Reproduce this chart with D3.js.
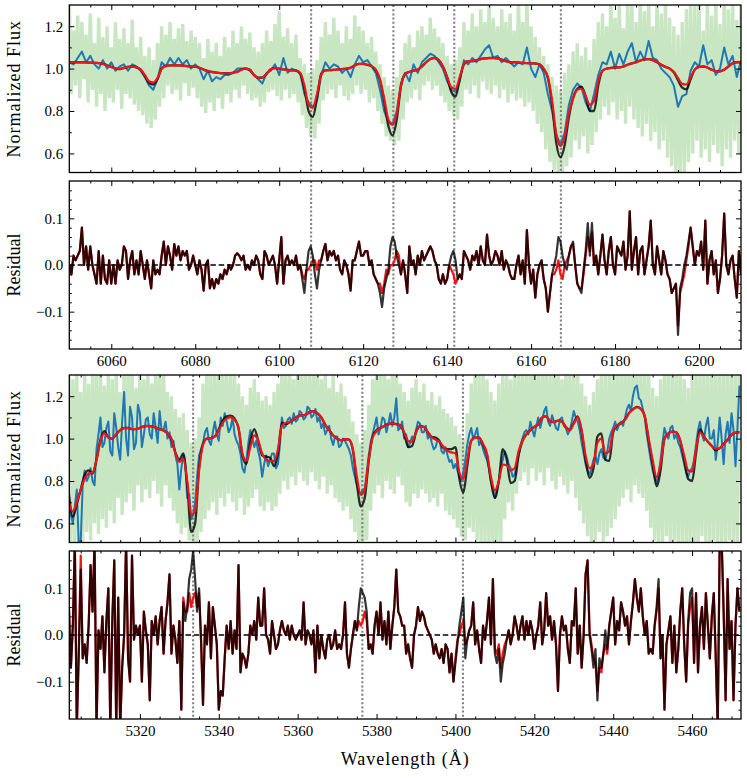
<!DOCTYPE html>
<html>
<head>
<meta charset="utf-8">
<script src="https://cdn.jsdelivr.net/npm/d3@7"></script>
<style>
  body { margin: 0; background: #fff; }
  svg { display: block; }
  svg text { font-family: "Liberation Serif", "DejaVu Serif", serif; }
</style>
</head>
<body>
<svg id="chart" width="747" height="778"></svg>
<script>
// ============================= Window 1: 6050 - 6210 A =========================//
var top_start = 6050;
var top_step = 1;          // models and smoothed observation
var top_fine_step = 0.5;   // raw spectrum and residuals

var top_raw = [
  1.30,0.88, 1.18,0.92, 1.25,0.86, 1.22,0.95, 1.16,0.84, 1.26,0.90, 1.12,0.82, 1.24,0.88, 1.15,0.80, 1.20,0.86,
  1.10,0.84, 1.22,0.90, 1.14,0.81, 1.19,0.88, 1.12,0.86, 1.23,0.83, 1.10,0.80, 1.15,0.78, 1.06,0.74, 1.10,0.72,
  1.04,0.76, 1.12,0.82, 1.20,0.86, 1.16,0.92, 1.22,0.88, 1.14,0.90, 1.19,0.85, 1.21,0.93, 1.13,0.87, 1.18,0.91,
  1.15,0.86, 1.12,0.82, 1.05,0.79, 1.14,0.84, 1.08,0.80, 1.12,0.86, 1.06,0.81, 1.15,0.88, 1.10,0.84, 1.18,0.90,
  1.12,0.86, 1.20,0.92, 1.14,0.88, 1.17,0.85, 1.10,0.86, 1.08,0.82, 1.12,0.84, 1.18,0.89, 1.13,0.90, 1.21,0.87,
  1.27,0.85, 1.15,0.90, 1.19,0.86, 1.12,0.88, 1.16,0.84, 1.05,0.78, 1.02,0.72, 0.98,0.68, 1.00,0.67, 1.04,0.74,
  1.15,0.85, 1.22,0.88, 1.16,0.90, 1.24,0.86, 1.18,0.92, 1.12,0.87, 1.20,0.85, 1.14,0.88, 1.25,0.92, 1.20,0.88,
  1.18,0.90, 1.12,0.84, 1.15,0.86, 1.08,0.80, 1.02,0.74, 0.96,0.68, 0.92,0.66, 0.90,0.64, 0.96,0.66, 1.04,0.76,
  1.12,0.84, 1.16,0.86, 1.10,0.90, 1.18,0.85, 1.20,0.92, 1.16,0.94, 1.24,0.90, 1.19,0.92, 1.15,0.87, 1.12,0.84,
  1.06,0.80, 1.02,0.78, 1.04,0.76, 1.10,0.82, 1.22,0.90, 1.18,0.88, 1.26,0.92, 1.20,0.86, 1.28,0.94, 1.22,0.90,
  1.30,0.88, 1.24,0.92, 1.20,0.86, 1.28,0.90, 1.22,0.84, 1.26,0.88, 1.18,0.85, 1.34,0.86, 1.22,0.82, 1.34,0.84,
  1.20,0.80, 1.15,0.74, 1.10,0.70, 1.06,0.62, 1.02,0.56, 0.96,0.52, 0.92,0.48, 0.90,0.48, 0.98,0.54, 1.02,0.58,
  1.08,0.66, 1.12,0.62, 1.06,0.68, 1.10,0.60, 1.04,0.64, 1.14,0.70, 1.22,0.76, 1.26,0.82, 1.20,0.78, 1.34,0.84,
  1.24,0.76, 1.34,0.80, 1.19,0.74, 1.34,0.82, 1.30,0.76, 1.22,0.72, 1.34,0.68, 1.27,0.74, 1.34,0.66, 1.20,0.70,
  1.34,0.62, 1.26,0.66, 1.34,0.58, 1.24,0.54, 1.20,0.48, 1.16,0.48, 1.22,0.48, 1.28,0.56, 1.34,0.60, 1.30,0.66,
  1.34,0.58, 1.18,0.62, 1.34,0.56, 1.25,0.64, 1.34,0.60, 1.21,0.54, 1.34,0.62, 1.28,0.58, 1.34,0.66, 1.23,0.60,
  1.34
];

var top_observed = [
  1.03,1.02,1.05,1.08,1.03,1.06,1.02,1.00,1.04,1.00,
  1.03,0.99,1.01,1.02,0.99,1.02,1.01,0.99,0.96,0.92,
  0.90,0.95,1.03,1.01,1.05,1.02,1.05,1.02,1.04,1.00,
  1.02,1.00,0.95,0.99,0.94,0.96,0.95,0.97,0.97,0.98,
  1.00,1.00,1.00,0.99,0.97,0.95,0.93,0.98,0.99,1.02,
  0.97,1.05,0.98,1.00,0.99,0.98,0.88,0.84,0.82,0.85,
  0.97,1.03,1.00,1.02,1.01,0.98,1.00,0.96,1.02,1.06,
  1.03,1.04,1.01,0.98,0.90,0.80,0.75,0.74,0.80,0.93,
  0.98,0.94,1.02,0.98,1.03,1.05,1.07,1.06,1.03,1.00,
  0.94,0.90,0.89,0.94,1.04,1.02,1.05,1.03,1.06,1.09,
  1.11,1.05,1.06,1.03,1.05,1.03,1.01,1.03,1.02,1.10,
  1.00,0.96,1.02,0.98,0.88,0.80,0.69,0.64,0.70,0.83,
  0.90,0.93,0.91,0.84,0.80,0.88,0.97,1.03,1.02,1.08,
  1.00,1.07,1.02,1.08,1.12,1.03,1.08,1.04,1.13,1.05,
  1.04,1.00,0.98,0.96,0.92,0.82,0.87,0.88,0.99,1.03,
  1.01,1.11,1.02,1.04,0.97,1.00,1.10,1.02,1.06,0.96,
  1.04
];

var top_model_black = [
  1.030,1.030,1.030,1.029,1.029,1.028,1.027,1.026,1.022,1.016,
  1.008,1.001,0.998,1.003,1.008,1.010,1.006,0.995,0.965,0.932,
  0.925,0.950,1.000,1.013,1.015,1.015,1.015,1.014,1.012,1.010,
  1.008,1.004,0.995,0.988,0.984,0.981,0.979,0.978,0.978,0.980,
  0.985,0.995,1.000,0.995,0.970,0.957,0.958,0.975,0.997,1.002,
  1.000,0.996,0.994,0.992,0.991,0.975,0.905,0.800,0.772,0.860,
  0.975,0.992,0.993,0.994,0.996,0.998,1.000,1.004,1.015,1.022,
  1.022,1.018,1.012,0.993,0.945,0.845,0.730,0.685,0.760,0.915,
  0.975,0.985,0.990,0.995,1.010,1.030,1.045,1.050,1.040,1.010,
  0.960,0.890,0.868,0.950,1.020,1.035,1.035,1.040,1.045,1.048,
  1.050,1.050,1.048,1.042,1.035,1.030,1.030,1.028,1.027,1.026,
  1.025,1.024,1.020,0.998,0.955,0.830,0.650,0.582,0.640,0.770,
  0.860,0.905,0.915,0.870,0.800,0.800,0.920,0.990,1.000,1.003,
  1.006,1.006,1.010,1.018,1.025,1.030,1.038,1.044,1.045,1.040,
  1.030,1.018,1.008,1.000,0.982,0.945,0.910,0.902,0.950,0.995,
  1.008,1.010,1.005,0.995,0.988,0.987,0.995,1.010,1.025,1.030,
  1.030
];

var top_model_red = [
  1.030,1.030,1.030,1.029,1.029,1.028,1.027,1.026,1.022,1.016,
  1.008,1.001,0.998,1.003,1.008,1.010,1.006,0.995,0.970,0.940,
  0.935,0.955,1.000,1.013,1.015,1.015,1.015,1.014,1.012,1.010,
  1.008,1.004,0.995,0.988,0.984,0.981,0.979,0.978,0.978,0.980,
  0.985,0.995,1.000,0.995,0.970,0.957,0.958,0.975,0.997,1.002,
  1.000,0.996,0.994,0.992,0.991,0.980,0.920,0.830,0.815,0.880,
  0.970,0.992,0.993,0.994,0.996,0.998,1.000,1.004,1.015,1.022,
  1.022,1.018,1.012,0.995,0.950,0.860,0.760,0.735,0.790,0.920,
  0.975,0.985,0.990,0.995,1.010,1.030,1.045,1.050,1.040,1.010,
  0.960,0.912,0.905,0.960,1.020,1.035,1.035,1.040,1.045,1.048,
  1.050,1.050,1.048,1.042,1.035,1.030,1.030,1.028,1.027,1.026,
  1.025,1.024,1.020,1.000,0.960,0.850,0.690,0.635,0.680,0.790,
  0.860,0.900,0.905,0.870,0.830,0.850,0.940,0.990,1.000,1.003,
  1.006,1.006,1.010,1.018,1.025,1.030,1.038,1.044,1.045,1.040,
  1.030,1.018,1.008,1.000,0.985,0.955,0.928,0.925,0.960,0.995,
  1.008,1.010,1.005,0.995,0.988,0.987,0.995,1.010,1.025,1.030,
  1.030
];

var top_resid_black = [
  0.00,-0.02, 0.02,0.01, 0.02,0.03, 0.08,0.00, 0.04,-0.01, 0.04,0.00, -0.02,-0.04, 0.03,-0.04, 0.02,-0.03, -0.04,0.01,
  -0.04,0.00, -0.04,0.01, -0.01,0.00, 0.04,0.03, -0.03,0.01, 0.03,-0.02, 0.01,-0.02, 0.03,0.00, -0.03,0.01, -0.02,-0.05,
  0.01,-0.02, -0.01,-0.02, 0.02,0.05, 0.00,0.04, 0.02,-0.01, 0.045,0.02, 0.04,0.01, 0.03,0.02, 0.03,-0.01, 0.00,0.02,
  0.00,-0.02, 0.01,-0.01, -0.055,0.00, 0.01,-0.05, -0.03,-0.05, -0.03,-0.04, -0.02,-0.03, -0.01,-0.02, 0.00,-0.01, 0.00,0.02,
  0.025,0.02, 0.01,0.02, -0.01,0.00, -0.01,0.01, 0.00,0.02, 0.01,-0.02, -0.03,0.03, 0.02,0.00, 0.01,0.02, 0.00,-0.04,
  0.01,0.06, -0.04,0.01, 0.02,0.00, 0.01,0.00, 0.02,-0.01, 0.00,-0.03, -0.06,-0.01, 0.03,0.04, 0.02,-0.02, -0.05,-0.01,
  0.01,0.03, 0.045,0.01, 0.03,0.02, 0.03,0.01, 0.02,-0.01, -0.02,0.01, 0.00,-0.02, -0.055,0.01, 0.01,0.03, 0.05,0.02,
  0.02,0.03, 0.03,0.00, 0.01,-0.02, -0.03,-0.04, -0.06,-0.09, -0.05,-0.03, -0.01,0.04, 0.06,0.05, 0.02,0.00, -0.02,0.01,
  -0.02,-0.06, 0.04,0.00, 0.01,-0.02, 0.02,0.00, 0.03,0.01, 0.02,0.03, 0.04,0.03, 0.01,0.00, -0.03,-0.04, -0.02,-0.04,
  -0.03,0.00, 0.02,0.03, 0.01,-0.03, -0.02,-0.03, 0.03,0.02, 0.01,-0.01, 0.02,0.01, 0.03,0.00, 0.04,0.01, 0.00,0.065,
  0.02,0.00, 0.01,0.03, 0.02,0.00, 0.03,-0.01, 0.01,0.00, -0.02,-0.03, -0.03,0.00, 0.02,-0.02, 0.01,-0.04, 0.075,0.00,
  -0.04,-0.01, -0.07,-0.02, 0.00,0.01, -0.03,-0.05, -0.10,-0.06, -0.02,0.00, 0.02,0.06, 0.05,0.02, 0.00,-0.01, 0.02,0.04,
  0.05,0.00, -0.04,-0.05, -0.06,-0.01, 0.03,0.09, 0.02,0.09, 0.00,0.02, -0.02,0.02, 0.065,0.01, -0.02,0.03, 0.06,0.00,
  -0.02,0.04, 0.03,0.02, 0.05,-0.01, 0.02,0.115, -0.01,0.03, 0.06,-0.02, 0.03,0.04, -0.02,0.01, 0.04,0.095, 0.00,-0.02,
  0.04,0.01, -0.02,0.03, 0.01,-0.02, -0.03,-0.06, -0.05,-0.04, -0.15,-0.05, -0.03,0.00, 0.02,0.05, 0.08,0.04, 0.00,0.03,
  0.02,0.05, -0.01,0.095, -0.04,0.01, 0.03,-0.02, 0.01,-0.06, -0.03,0.02, 0.11,0.00, -0.02,0.01, 0.02,-0.03, -0.07,0.03,
  -0.02
];

var top_resid_red = [
  0.00,-0.02, 0.02,0.01, 0.02,0.03, 0.08,0.00, 0.04,-0.01, 0.04,0.00, -0.02,-0.04, 0.03,-0.04, 0.02,-0.03, -0.04,0.01,
  -0.04,0.00, -0.04,0.01, -0.01,0.00, 0.04,0.03, -0.03,0.01, 0.03,-0.02, 0.01,-0.02, 0.03,0.00, -0.03,0.01, -0.02,-0.05,
  0.01,-0.02, -0.01,-0.02, 0.02,0.05, 0.00,0.04, 0.02,-0.01, 0.045,0.02, 0.04,0.01, 0.03,0.02, 0.03,-0.01, 0.00,0.02,
  0.00,-0.02, 0.01,-0.01, -0.055,0.00, 0.01,-0.05, -0.03,-0.05, -0.03,-0.04, -0.02,-0.03, -0.01,-0.02, 0.00,-0.01, 0.00,0.02,
  0.025,0.02, 0.01,0.02, -0.01,0.00, -0.01,0.01, 0.00,0.02, 0.01,-0.02, -0.03,0.03, 0.02,0.00, 0.01,0.02, 0.00,-0.04,
  0.01,0.06, -0.04,0.01, 0.02,0.00, 0.01,0.00, 0.02,-0.01, 0.00,-0.02, -0.03,-0.01, -0.01,0.00, 0.01,0.01, -0.01,0.01,
  0.01,0.03, 0.045,0.01, 0.03,0.02, 0.03,0.01, 0.02,-0.01, -0.02,0.01, 0.00,-0.02, -0.055,0.01, 0.01,0.03, 0.05,0.02,
  0.02,0.03, 0.03,0.00, 0.01,-0.02, -0.03,-0.04, -0.04,-0.06, -0.04,-0.01, -0.02,0.00, 0.00,0.01, 0.03,0.02, -0.02,0.01,
  -0.02,-0.06, 0.04,0.00, 0.01,-0.02, 0.02,0.00, 0.03,0.01, 0.02,0.03, 0.04,0.03, 0.01,0.00, -0.03,-0.04, -0.02,-0.04,
  -0.03,0.00, -0.01,-0.02, -0.04,-0.03, -0.02,-0.03, 0.03,0.02, 0.01,-0.01, 0.02,0.01, 0.03,0.00, 0.04,0.01, 0.00,0.065,
  0.02,0.00, 0.01,0.03, 0.02,0.00, 0.03,-0.01, 0.01,0.00, -0.02,-0.03, -0.03,0.00, 0.02,-0.02, 0.01,-0.04, 0.075,0.00,
  -0.04,-0.01, -0.07,-0.02, 0.00,0.01, -0.03,-0.05, -0.10,-0.06, -0.02,-0.02, -0.01,0.01, -0.02,-0.03, 0.00,0.01, 0.02,0.04,
  0.045,0.00, -0.04,-0.05, -0.05,-0.02, 0.02,0.06, 0.03,0.07, 0.00,0.02, -0.02,0.02, 0.065,0.01, -0.02,0.03, 0.06,0.00,
  -0.02,0.04, 0.03,0.02, 0.05,-0.01, 0.02,0.115, -0.01,0.03, 0.06,-0.02, 0.03,0.04, -0.02,0.01, 0.04,0.095, 0.00,-0.02,
  0.04,0.01, -0.02,0.03, 0.01,-0.02, -0.03,-0.06, -0.05,-0.04, -0.13,-0.06, -0.04,-0.02, 0.01,0.04, 0.08,0.04, 0.00,0.03,
  0.02,0.05, -0.01,0.095, -0.04,0.01, 0.03,-0.02, 0.01,-0.06, -0.03,0.02, 0.11,0.00, -0.02,0.01, 0.02,-0.03, -0.07,0.03,
  -0.02
];

var top_lines = [6107.6, 6127.2, 6141.7, 6167.1];
var top_xdomain = [6050, 6210];
var top_xticks = [6060, 6080, 6100, 6120, 6140, 6160, 6180, 6200];
var top_xminor = [6055, 6065, 6070, 6075, 6085, 6090, 6095, 6105, 6110, 6115, 6125, 6130, 6135,
                  6145, 6150, 6155, 6165, 6170, 6175, 6185, 6190, 6195, 6205];

// ============================= Window 2: 5302 - 5472 A =========================//
var bot_start = 5302;
var bot_step = 1;
var bot_fine_step = 0.5;

var bot_raw = [
  1.34,0.50, 1.28,0.48, 1.34,0.48, 1.22,0.50, 1.34,0.56, 1.26,0.52, 1.34,0.60, 1.30,0.55, 1.34,0.62, 1.25,0.58,
  1.34,0.66, 1.28,0.60, 1.34,0.72, 1.22,0.64, 1.34,0.70, 1.30,0.74, 1.34,0.66, 1.24,0.78, 1.34,0.70, 1.28,0.76,
  1.34,0.72, 1.26,0.80, 1.34,0.74, 1.30,0.68, 1.34,0.78, 1.22,0.72, 1.20,0.66, 1.14,0.60, 1.10,0.55, 1.12,0.58,
  1.04,0.52, 0.98,0.48, 1.00,0.50, 1.10,0.56, 1.26,0.62, 1.34,0.66, 1.30,0.70, 1.34,0.64, 1.34,0.72, 1.34,0.68,
  1.34,0.74, 1.30,0.70, 1.34,0.66, 1.26,0.72, 1.20,0.64, 1.16,0.68, 1.24,0.72, 1.28,0.76, 1.22,0.68, 1.18,0.66,
  1.20,0.70, 1.16,0.66, 1.22,0.68, 1.26,0.74, 1.34,0.80, 1.30,0.76, 1.34,0.82, 1.28,0.78, 1.34,0.84, 1.32,0.80,
  1.34,0.78, 1.30,0.84, 1.34,0.80, 1.34,0.76, 1.28,0.82, 1.34,0.74, 1.24,0.78, 1.30,0.72, 1.22,0.70, 1.26,0.66,
  1.20,0.68, 1.14,0.62, 1.08,0.56, 1.02,0.50, 0.98,0.48, 1.04,0.52, 1.16,0.66, 1.28,0.74, 1.34,0.78, 1.30,0.72,
  1.34,0.80, 1.28,0.76, 1.34,0.74, 1.34,0.82, 1.26,0.78, 1.22,0.70, 1.18,0.68, 1.24,0.74, 1.28,0.72, 1.22,0.76,
  1.26,0.74, 1.18,0.70, 1.22,0.72, 1.16,0.68, 1.20,0.74, 1.14,0.66, 1.12,0.64, 1.10,0.62, 1.06,0.58, 1.02,0.54,
  1.00,0.52, 1.12,0.58, 1.26,0.56, 1.34,0.52, 1.30,0.48, 1.34,0.50, 1.28,0.48, 1.22,0.48, 1.18,0.48, 1.26,0.50,
  1.30,0.62, 1.34,0.70, 1.28,0.66, 1.34,0.74, 1.30,0.80, 1.34,0.84, 1.30,0.78, 1.34,0.86, 1.34,0.80, 1.30,0.84,
  1.34,0.78, 1.34,0.86, 1.30,0.80, 1.34,0.76, 1.34,0.82, 1.28,0.78, 1.34,0.74, 1.34,0.80, 1.30,0.72, 1.34,0.66,
  1.26,0.60, 1.20,0.54, 1.16,0.50, 1.22,0.52, 1.28,0.56, 1.34,0.50, 1.30,0.54, 1.34,0.58, 1.34,0.62, 1.34,0.68,
  1.34,0.72, 1.34,0.76, 1.34,0.70, 1.34,0.78, 1.34,0.74, 1.34,0.72, 1.34,0.66, 1.30,0.58, 1.24,0.52, 1.20,0.48,
  1.28,0.50, 1.34,0.54, 1.34,0.48, 1.30,0.52, 1.34,0.48, 1.34,0.50, 1.28,0.48, 1.24,0.48, 1.30,0.50, 1.34,0.48,
  1.34,0.54, 1.34,0.50, 1.34,0.48, 1.34,0.52, 1.34,0.48, 1.34,0.50, 1.34,0.48, 1.34,0.52, 1.34,0.48, 1.34,0.50,
  1.34
];

// smoothed observation, 0.5 A steps in this window
var bot_observed = [
  0.70,0.64, 0.60,0.68, 0.76,0.50, 0.52,0.78, 0.85,0.80, 0.82,0.86, 0.80,0.78, 0.95,1.02, 1.10,0.96, 0.98,1.05,
  1.08,0.94, 0.92,1.12, 1.05,0.96, 0.90,1.08, 1.22,1.00, 0.92,1.15, 1.10,0.95, 0.98,1.16, 1.12,0.96, 1.02,1.09,
  1.10,1.02, 1.00,1.12, 1.05,0.98, 1.13,1.04, 1.04,1.08, 1.00,1.03, 0.96,0.99, 0.92,0.88, 0.76,0.86, 0.92,0.88,
  0.72,0.74, 0.62,0.64, 0.70,0.82, 0.92,0.95, 0.98,1.03, 1.05,0.99, 0.97,1.03, 1.08,1.02, 0.99,1.10, 1.06,1.12,
  1.08,1.03, 1.05,1.10, 1.02,0.99, 0.97,0.93, 0.86,0.84, 0.90,0.98, 1.04,1.00, 0.96,0.99, 0.94,0.90, 0.82,0.88,
  0.92,0.87, 0.90,0.93, 0.93,0.86, 0.88,0.97, 1.10,1.05, 1.06,1.09, 1.10,1.07, 1.12,1.08, 1.09,1.13, 1.12,1.09,
  1.10,1.15, 1.14,1.10, 1.11,1.14, 1.08,1.10, 1.05,1.07, 1.02,1.04, 1.06,1.00, 0.97,1.01, 1.01,0.96, 0.97,1.00,
  0.99,0.97, 0.95,0.92, 0.86,0.82, 0.78,0.75, 0.74,0.76, 0.76,0.84, 0.92,0.98, 1.02,1.06, 1.10,1.02, 1.05,1.10,
  1.09,1.03, 1.07,1.12, 1.06,1.10, 1.19,1.04, 1.05,1.08, 1.00,1.02, 0.96,0.98, 1.01,0.99, 1.04,1.08, 1.07,1.03,
  1.03,1.06, 1.00,1.02, 0.98,0.95, 0.96,1.00, 0.99,0.94, 0.93,0.96, 0.92,0.89, 0.90,0.86, 0.88,0.85, 0.82,0.80,
  0.84,0.90, 0.97,1.02, 1.05,1.00, 1.02,1.05, 0.97,0.99, 0.95,0.92, 0.90,0.86, 0.80,0.76, 0.72,0.76, 0.80,0.86,
  0.90,0.94, 0.92,0.88, 0.86,0.82, 0.83,0.87, 0.92,0.97, 1.00,1.03, 1.04,1.02, 1.08,1.04, 1.01,1.06, 1.10,1.05,
  1.09,1.13, 1.15,1.08, 1.06,1.11, 1.08,1.05, 1.04,1.09, 1.10,1.06, 1.05,1.02, 1.04,1.08, 1.13,1.10, 1.08,1.04,
  0.98,0.93, 0.88,0.85, 0.83,0.86, 0.90,0.92, 0.88,0.93, 0.95,0.91, 0.90,0.94, 1.00,1.03, 1.05,1.08, 1.04,1.07,
  1.08,1.06, 1.10,1.14, 1.16,1.13, 1.20,1.24, 1.25,1.19, 1.18,1.14, 1.10,1.02, 0.96,0.90, 0.85,0.82, 0.79,0.83,
  0.90,0.98, 1.05,1.02, 1.00,1.05, 1.06,1.00, 1.02,0.98, 0.96,0.92, 0.88,0.84, 0.82,0.85, 0.86,0.90, 0.97,1.04,
  1.08,1.02, 0.99,1.06, 1.10,1.00, 1.00,1.04, 0.90,0.98, 1.10,1.00, 0.88,1.02, 1.08,0.98, 1.12,1.04, 0.87,1.05,
  1.25
];

var bot_model_black = [
  0.740,0.632,0.690,0.760,0.830,0.850,0.835,0.900,0.995,1.035,
  1.005,1.000,1.020,1.040,1.050,1.050,1.045,1.045,1.050,1.058,
  1.060,1.058,1.052,1.045,1.038,1.025,0.995,0.935,0.900,0.930,
  0.780,0.560,0.600,0.860,0.975,1.000,1.002,1.010,1.045,1.085,
  1.105,1.108,1.095,1.050,0.920,0.880,0.990,1.045,0.990,0.920,
  0.915,0.910,0.870,0.930,1.075,1.068,1.078,1.090,1.105,1.110,
  1.112,1.125,1.130,1.120,1.100,1.065,1.040,1.015,1.000,0.992,
  0.998,0.995,0.945,0.790,0.680,0.720,0.890,1.010,1.040,1.050,
  1.060,1.070,1.072,1.068,1.062,1.025,0.960,0.965,1.030,1.060,
  1.055,1.030,1.008,1.005,0.985,0.955,0.950,0.950,0.960,0.810,
  0.745,0.870,0.990,1.005,1.005,0.970,0.920,0.800,0.720,0.800,
  0.950,0.900,0.790,0.800,0.920,0.990,1.020,1.040,1.055,1.068,
  1.100,1.105,1.082,1.078,1.085,1.080,1.055,1.040,1.075,1.105,
  1.035,0.900,0.815,0.860,1.010,1.025,0.900,0.895,1.030,1.062,
  1.072,1.090,1.120,1.138,1.150,1.140,1.105,0.990,0.880,0.775,
  0.850,1.000,1.025,1.033,1.030,0.990,0.900,0.810,0.800,0.930,
  1.045,1.010,0.985,0.965,0.945,0.955,0.975,0.995,1.018,1.028,
  1.030
];

var bot_model_red = [
  0.700,0.656,0.700,0.760,0.810,0.835,0.840,0.900,0.990,1.025,
  1.005,1.000,1.020,1.040,1.050,1.050,1.045,1.045,1.050,1.058,
  1.060,1.058,1.052,1.045,1.038,1.025,1.000,0.930,0.890,0.905,
  0.800,0.640,0.660,0.850,0.970,1.000,1.002,1.010,1.040,1.075,
  1.095,1.100,1.090,1.050,0.930,0.895,0.960,1.015,0.990,0.930,
  0.900,0.895,0.895,0.950,1.060,1.075,1.078,1.090,1.105,1.110,
  1.112,1.125,1.130,1.120,1.100,1.065,1.040,1.015,1.000,0.992,
  0.998,0.995,0.950,0.820,0.735,0.760,0.900,1.005,1.035,1.050,
  1.060,1.070,1.072,1.068,1.062,1.030,0.990,0.985,1.030,1.058,
  1.055,1.030,1.005,0.995,0.985,0.960,0.942,0.935,0.930,0.840,
  0.810,0.900,0.990,1.005,1.005,0.975,0.930,0.820,0.755,0.800,
  0.878,0.875,0.850,0.860,0.940,0.990,1.020,1.040,1.055,1.068,
  1.100,1.105,1.082,1.078,1.085,1.080,1.055,1.040,1.070,1.100,
  1.040,0.920,0.860,0.880,0.980,1.000,0.930,0.940,1.040,1.062,
  1.072,1.090,1.120,1.138,1.148,1.140,1.105,1.000,0.900,0.818,
  0.880,1.000,1.025,1.033,1.030,0.990,0.920,0.850,0.845,0.950,
  1.028,1.010,0.985,0.965,0.952,0.955,0.975,0.995,1.018,1.028,
  1.030
];

var bot_resid_black = [
  0.06,-0.07, 0.02,0.20, -0.20,-0.04, 0.14,-0.05, -0.02,-0.06, 0.02,0.15, 0.05,0.20, -0.20,0.01, -0.03,0.04, -0.08,0.03,
  0.10,-0.20, 0.03,0.16, -0.20,0.08, -0.20,-0.07, 0.00,0.20, -0.05,-0.10, 0.17,-0.01, 0.02,0.00, 0.02,-0.10, 0.05,0.01,
  -0.02,-0.14, 0.03,0.00, 0.04,-0.02, 0.03,0.06, -0.04,0.03, 0.07,0.13, -0.04,0.02, -0.01,-0.06, 0.03,-0.16, 0.07,0.03,
  0.06,0.12, 0.14,0.18, 0.12,0.05, 0.10,-0.01, -0.15,0.02, -0.02,0.07, -0.05,0.06, 0.02,-0.02, -0.16,-0.12, -0.13,-0.05,
  0.02,-0.03, 0.03,-0.04, 0.01,-0.03, 0.15,-0.08, -0.04,-0.05, -0.07,-0.04, 0.02,0.00, 0.03,-0.01, 0.08,0.02, 0.02,0.10,
  0.00,-0.01, -0.04,0.03, 0.00,-0.03, -0.02,0.01, 0.03,0.01, 0.00,0.02, -0.01,0.02, 0.00,-0.01, 0.00,0.01, -0.01,0.07,
  -0.02,0.01, 0.00,-0.02, 0.01,-0.08, 0.02,-0.05, 0.00,-0.03, -0.05,-0.01, 0.00,-0.03, -0.02,0.01, -0.03,-0.02, -0.03,0.00,
  0.07,-0.04, -0.07,-0.03, 0.00,0.03, 0.01,0.06, 0.10,0.09, 0.08,0.05, -0.03,-0.02, -0.04,0.02, 0.05,0.00, 0.07,-0.01,
  0.03,-0.02, 0.05,-0.03, 0.02,0.06, 0.14,0.05, 0.04,0.02, 0.02,-0.04, -0.02,-0.05, -0.07,0.00, 0.02,0.06, 0.03,0.05,
  0.04,0.02, 0.01,0.00, -0.01,-0.04, -0.02,-0.04, -0.05,-0.03, -0.06,-0.02, -0.03,-0.08, -0.04,-0.10, -0.06,-0.02, 0.02,0.05,
  0.08,-0.05, -0.01,0.01, 0.02,0.07, -0.02,0.01, -0.03,-0.06, 0.02,-0.01, 0.03,0.08, -0.02,0.12, -0.04,-0.06, -0.03,-0.10,
  -0.06,-0.04, -0.01,0.01, -0.02,0.00, 0.04,0.02, -0.01,0.02, 0.04,-0.01, 0.03,0.00, 0.03,0.01, -0.03,0.00, 0.02,0.07,
  -0.02,0.01, 0.09,0.02, 0.04,-0.01, 0.03,-0.02, -0.12,0.00, 0.04,0.01, 0.02,-0.03, -0.06,0.03, 0.02,0.10, -0.04,0.02,
  -0.07,0.00, 0.13,0.16, 0.00,-0.03, -0.07,-0.03, -0.14,-0.05, -0.07,-0.04, 0.01,-0.03, 0.02,0.05, 0.08,-0.02, 0.03,0.01,
  0.07,0.05, 0.02,0.04, -0.02,0.03, 0.07,0.12, 0.08,0.05, 0.10,0.04, 0.00,0.03, -0.04,-0.03, -0.04,0.02, 0.06,0.12,
  -0.05,0.00, -0.16,-0.02, 0.01,0.04, -0.06,0.02, -0.08,-0.03, 0.05,0.10, -0.02,-0.10, 0.03,0.09, 0.10,-0.06, 0.09,-0.08,
  0.02,0.06, -0.03,0.09, 0.02,-0.05, 0.04,0.09, -0.05,-0.20, 0.20,0.20, 0.05,-0.14, 0.12,-0.03, 0.03,-0.14, 0.02,0.10,
  0.05
];

var bot_resid_red = [
  0.06,-0.07, 0.02,0.20, -0.20,-0.04, 0.17,-0.05, -0.02,-0.06, 0.02,0.15, 0.05,0.20, -0.20,0.01, -0.03,0.04, -0.08,0.03,
  0.10,-0.20, 0.03,0.16, -0.20,0.08, -0.20,-0.07, 0.00,0.20, -0.05,-0.10, 0.17,-0.01, 0.02,0.00, 0.02,-0.10, 0.05,0.01,
  -0.02,-0.14, 0.03,0.00, 0.04,-0.02, 0.03,0.06, -0.04,0.03, 0.07,0.13, -0.04,0.02, -0.01,-0.06, 0.03,-0.16, 0.08,0.05,
  0.05,0.09, 0.06,0.08, 0.09,0.06, 0.09,-0.01, -0.15,0.02, -0.02,0.07, -0.05,0.06, 0.02,-0.02, -0.16,-0.12, -0.13,-0.05,
  0.02,-0.03, 0.03,-0.04, 0.01,-0.03, 0.15,-0.08, -0.04,-0.05, -0.07,-0.04, 0.02,0.00, 0.03,-0.01, 0.08,0.02, 0.02,0.10,
  0.00,-0.01, -0.04,0.03, 0.00,-0.03, -0.02,0.01, 0.03,0.01, 0.00,0.02, -0.01,0.02, 0.00,-0.01, 0.00,0.01, -0.01,0.07,
  -0.02,0.01, 0.00,-0.02, 0.01,-0.08, 0.02,-0.05, 0.00,-0.03, -0.05,-0.01, 0.00,-0.03, -0.02,0.01, -0.03,-0.02, -0.03,0.00,
  0.07,-0.04, -0.07,-0.03, 0.00,0.03, 0.01,0.03, 0.02,0.03, 0.05,0.03, -0.03,-0.02, -0.04,0.02, 0.05,0.00, 0.07,-0.01,
  0.03,-0.02, 0.05,-0.03, 0.02,0.06, 0.14,0.05, 0.04,0.02, 0.02,-0.04, -0.02,-0.05, -0.07,0.00, 0.02,0.06, 0.03,0.05,
  0.04,0.02, 0.01,0.00, -0.01,-0.04, -0.02,-0.04, -0.05,-0.03, -0.06,-0.02, -0.03,-0.08, -0.04,-0.10, -0.05,-0.01, 0.00,0.02,
  0.03,-0.02, -0.01,0.01, 0.02,0.07, -0.02,0.01, -0.03,-0.06, 0.02,-0.01, 0.03,0.08, -0.02,0.12, -0.03,-0.04, -0.02,-0.07,
  -0.04,-0.02, -0.01,0.01, -0.02,0.00, 0.04,0.02, -0.01,0.02, 0.04,-0.01, 0.03,0.00, 0.03,0.01, -0.03,0.00, 0.02,0.07,
  -0.02,0.01, 0.09,0.02, 0.04,-0.01, 0.03,-0.02, -0.12,0.00, 0.04,0.01, 0.02,-0.03, -0.06,0.03, 0.02,0.10, -0.04,0.02,
  -0.07,0.00, 0.13,0.16, 0.01,-0.02, -0.05,-0.06, -0.12,-0.07, -0.08,-0.04, -0.02,-0.04, 0.02,0.05, 0.08,-0.02, 0.03,0.01,
  0.07,0.05, 0.02,0.04, -0.02,0.03, 0.07,0.12, 0.08,0.05, 0.10,0.04, 0.00,0.03, -0.04,-0.03, -0.04,0.02, 0.05,0.10,
  -0.05,0.00, -0.16,-0.02, 0.01,0.04, -0.06,0.02, -0.08,-0.03, 0.05,0.10, -0.02,-0.10, 0.02,0.06, 0.08,-0.06, 0.09,-0.08,
  0.02,0.06, -0.03,0.09, 0.02,-0.05, 0.04,0.09, -0.05,-0.20, 0.20,0.20, 0.05,-0.14, 0.12,-0.03, 0.03,-0.14, 0.02,0.10,
  0.05
];

var bot_lines = [5333.5, 5376.4, 5401.9];
var bot_xdomain = [5302.1, 5472.4];
var bot_xticks = [5320, 5340, 5360, 5380, 5400, 5420, 5440, 5460];
var bot_xminor = [5305, 5310, 5315, 5325, 5330, 5335, 5345, 5350, 5355, 5365, 5370, 5375, 5385,
                  5390, 5395, 5405, 5410, 5415, 5425, 5430, 5435, 5445, 5450, 5455, 5465, 5470];

// ============================= Shared y ticks and labels =========================//
var flux_ydomain = [0.51, 1.30];
var flux_yticks = [0.6, 0.8, 1.0, 1.2];
var flux_yminor = [0.7, 0.9, 1.1];
var resid_ydomain = [-0.18, 0.18];
var resid_yticks = [-0.1, 0.0, 0.1];
var resid_yminor = [-0.16, -0.14, -0.12, -0.08, -0.06, -0.04, -0.02, 0.02, 0.04, 0.06, 0.08, 0.12, 0.14, 0.16];
var flux_label = 'Normalized Flux';
var resid_label = 'Residual';
var x_label = 'Wavelength (\u00C5)';

// ============================= Layout =========================//
var svg = d3.select('#chart');
var font = '"Liberation Serif", "DejaVu Serif", serif';
var plot_left = 69.3, plot_right = 741;

var col_raw = '#c9e6c3';
var col_obs = '#1f77b4';
var col_red = '#f01414';
var col_line = '#808080';

var series = function(start, step, values) {
  return values.map(function(v, i) { return [start + i * step, v]; });
};

var blank = function() { return ''; };

var fix_axis = function(sel) {
  sel.select('.domain').remove();
  sel.attr('font-family', null).attr('font-size', null);
  sel.selectAll('.tick line').attr('stroke', '#000').attr('stroke-width', 1);
  sel.selectAll('.tick text').attr('fill', '#000');
};

// ============================= Ticks on all four sides =========================//
var make_frame = function(x, y, top, bottom, xticks, xminor, yticks, yminor, show_x) {
  var g = svg.append('g').style('font-family', font).attr('font-size', 15);
  var yfmt = d3.format('.1f');

  g.append('g').attr('transform', 'translate(0,' + bottom + ')')
    .call(d3.axisBottom(x).tickValues(xticks).tickSizeInner(-5).tickSizeOuter(0).tickPadding(6.5)
      .tickFormat(show_x ? d3.format('d') : blank))
    .call(fix_axis);
  g.append('g').attr('transform', 'translate(0,' + bottom + ')')
    .call(d3.axisBottom(x).tickValues(xminor).tickSizeInner(-2.5).tickSizeOuter(0).tickFormat(blank))
    .call(fix_axis);
  g.append('g').attr('transform', 'translate(0,' + top + ')')
    .call(d3.axisTop(x).tickValues(xticks).tickSizeInner(-5).tickSizeOuter(0).tickFormat(blank))
    .call(fix_axis);
  g.append('g').attr('transform', 'translate(0,' + top + ')')
    .call(d3.axisTop(x).tickValues(xminor).tickSizeInner(-2.5).tickSizeOuter(0).tickFormat(blank))
    .call(fix_axis);

  g.append('g').attr('transform', 'translate(' + plot_left + ',0)')
    .call(d3.axisLeft(y).tickValues(yticks).tickSizeInner(-5).tickSizeOuter(0).tickPadding(6).tickFormat(yfmt))
    .call(fix_axis);
  g.append('g').attr('transform', 'translate(' + plot_left + ',0)')
    .call(d3.axisLeft(y).tickValues(yminor).tickSizeInner(-2.5).tickSizeOuter(0).tickFormat(blank))
    .call(fix_axis);
  g.append('g').attr('transform', 'translate(' + plot_right + ',0)')
    .call(d3.axisRight(y).tickValues(yticks).tickSizeInner(-5).tickSizeOuter(0).tickFormat(blank))
    .call(fix_axis);
  g.append('g').attr('transform', 'translate(' + plot_right + ',0)')
    .call(d3.axisRight(y).tickValues(yminor).tickSizeInner(-2.5).tickSizeOuter(0).tickFormat(blank))
    .call(fix_axis);

  svg.append('rect')
    .attr('x', plot_left).attr('y', top)
    .attr('width', plot_right - plot_left).attr('height', bottom - top)
    .attr('fill', 'none').attr('stroke', '#000').attr('stroke-width', 1.3);
};

var clip_id = 0;
var make_clip = function(top, bottom) {
  clip_id += 1;
  svg.append('clipPath').attr('id', 'clip' + clip_id)
    .append('rect')
      .attr('x', plot_left).attr('y', top)
      .attr('width', plot_right - plot_left).attr('height', bottom - top);
  return svg.append('g').attr('clip-path', 'url(#clip' + clip_id + ')');
};

var draw_marks = function(g, x, top, bottom, marks) {
  g.selectAll('line.mark')
    .data(marks)
    .enter().append('line')
      .attr('class', 'mark')
      .attr('x1', function(d) { return x(d); })
      .attr('x2', function(d) { return x(d); })
      .attr('y1', top).attr('y2', bottom)
      .attr('stroke', col_line)
      .attr('stroke-width', 2.1)
      .attr('stroke-dasharray', '2,2.2');
};

var add_ylabel = function(top, bottom, label, spacing) {
  svg.append('text')
    .attr('transform', 'translate(14,' + ((top + bottom) / 2) + ') rotate(-90)')
    .attr('dy', '0.35em')
    .attr('text-anchor', 'middle')
    .style('font-family', font).attr('font-size', 18).attr('letter-spacing', spacing)
    .text(label);
};

// ============================= Flux panel =========================//
var draw_flux = function(top, bottom, xdomain, start, obs_step, step, fine_step, raw, obs, black, red, marks, xticks, xminor) {
  var x = d3.scaleLinear().domain(xdomain).range([plot_left, plot_right]);
  var y = d3.scaleLinear().domain(flux_ydomain).range([bottom, top]);
  var g = make_clip(top, bottom);

  var jagged = d3.line().x(function(d) { return x(d[0]); }).y(function(d) { return y(d[1]); });
  var smooth = d3.line().x(function(d) { return x(d[0]); }).y(function(d) { return y(d[1]); })
    .curve(d3.curveMonotoneX);

  g.append('path').datum(series(start, fine_step, raw))
    .attr('d', jagged).attr('fill', 'none')
    .attr('stroke', col_raw).attr('stroke-width', 3.4);

  draw_marks(g, x, top, bottom, marks);

  g.append('path').datum(series(start, obs_step, obs))
    .attr('d', jagged).attr('fill', 'none')
    .attr('stroke', col_obs).attr('stroke-width', 2).attr('stroke-linejoin', 'round');
  g.append('path').datum(series(start, step, black))
    .attr('d', smooth).attr('fill', 'none')
    .attr('stroke', '#000').attr('stroke-opacity', 0.8).attr('stroke-width', 2.3);
  g.append('path').datum(series(start, step, red))
    .attr('d', smooth).attr('fill', 'none')
    .attr('stroke', col_red).attr('stroke-width', 2.2);

  make_frame(x, y, top, bottom, xticks, xminor, flux_yticks, flux_yminor, false);
  add_ylabel(top, bottom, flux_label, 1);
};

// ============================= Residual panel =========================//
var draw_resid = function(top, bottom, xdomain, start, fine_step, res_black, res_red, marks, xticks, xminor) {
  var x = d3.scaleLinear().domain(xdomain).range([plot_left, plot_right]);
  var y = d3.scaleLinear().domain(resid_ydomain).range([bottom, top]);
  var g = make_clip(top, bottom);

  var jagged = d3.line().x(function(d) { return x(d[0]); }).y(function(d) { return y(d[1]); });

  draw_marks(g, x, top, bottom, marks);

  g.append('path').datum(series(start, fine_step, res_red))
    .attr('d', jagged).attr('fill', 'none')
    .attr('stroke', col_red).attr('stroke-width', 2.2).attr('stroke-linejoin', 'round');
  g.append('path').datum(series(start, fine_step, res_black))
    .attr('d', jagged).attr('fill', 'none')
    .attr('stroke', '#000').attr('stroke-opacity', 0.8).attr('stroke-width', 2.2)
    .attr('stroke-linejoin', 'round');

  g.append('line')
    .attr('x1', plot_left).attr('x2', plot_right)
    .attr('y1', y(0)).attr('y2', y(0))
    .attr('stroke', '#000').attr('stroke-width', 1.6)
    .attr('stroke-dasharray', '5.5,2.8');

  make_frame(x, y, top, bottom, xticks, xminor, resid_yticks, resid_yminor, true);
  add_ylabel(top, bottom, resid_label, 0);
};

draw_flux(5, 172.5, top_xdomain, top_start, top_step, top_step, top_fine_step,
  top_raw, top_observed, top_model_black, top_model_red, top_lines, top_xticks, top_xminor);
draw_resid(181, 349, top_xdomain, top_start, top_fine_step,
  top_resid_black, top_resid_red, top_lines, top_xticks, top_xminor);
draw_flux(375, 542.5, bot_xdomain, bot_start, bot_fine_step, bot_step, bot_fine_step,
  bot_raw, bot_observed, bot_model_black, bot_model_red, bot_lines, bot_xticks, bot_xminor);
draw_resid(551, 719, bot_xdomain, bot_start, bot_fine_step,
  bot_resid_black, bot_resid_red, bot_lines, bot_xticks, bot_xminor);

svg.append('text')
  .attr('x', (plot_left + plot_right) / 2)
  .attr('y', 765)
  .attr('text-anchor', 'middle')
  .style('font-family', font).attr('font-size', 18).attr('letter-spacing', 1)
  .text(x_label);
</script>
</body>
</html>
